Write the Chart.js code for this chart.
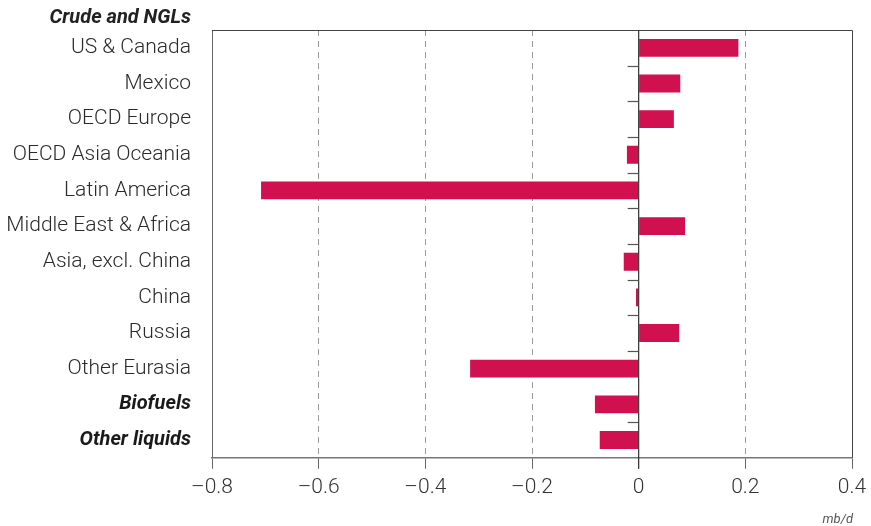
<!DOCTYPE html>
<html>
<head>
<meta charset="utf-8">
<script src="https://cdn.jsdelivr.net/npm/chart.js@4"></script>
<style>
  html, body { margin: 0; padding: 0; background: #fff; }
  #wrap { width: 871px; height: 526px; }
</style>
</head>
<body>
<div id="wrap"><canvas id="supplyChart"></canvas></div>
<script>
// Change in liquids supply by region (mb/d)
const groupTitle = "Crude and NGLs";
const regions = [
  "US & Canada", "Mexico", "OECD Europe", "OECD Asia Oceania", "Latin America",
  "Middle East & Africa", "Asia, excl. China", "China", "Russia", "Other Eurasia",
];
const otherSupply = ["Biofuels", "Other liquids"];
const categories = [...regions, ...otherSupply];

const regionChanges = [0.187, 0.078, 0.066, -0.022, -0.708, 0.087, -0.028, -0.005, 0.076, -0.316];
const otherChanges = [-0.082, -0.073];
const changes = [...regionChanges, ...otherChanges];

const xTicks = [-0.8, -0.6, -0.4, -0.2, 0, 0.2, 0.4];
const unitLabel = "mb/d";

const FONT = "Roboto, 'Liberation Sans', Arial, sans-serif";
const BAR_COLOR = "#d0104f";

function formatTick(value) {
  if (Math.abs(value) < 1e-9) return "0";
  return (value < 0 ? "\u2013" : "") + Math.abs(value).toFixed(1);
}

// frame, zero line, small separators and the extra texts
const decorPlugin = {
  id: "decor",
  afterDatasetsDraw(chart) {
    const { ctx, chartArea, scales } = chart;
    const xScale = scales.x;
    const yScale = scales.y;
    const x0 = xScale.getPixelForValue(0);

    ctx.save();
    // top and right frame
    ctx.strokeStyle = "#444";
    ctx.lineWidth = 1;
    ctx.beginPath();
    ctx.moveTo(chartArea.left, chartArea.top + 0.5);
    ctx.lineTo(chartArea.right + 0.5, chartArea.top + 0.5);
    ctx.lineTo(chartArea.right + 0.5, chartArea.bottom);
    ctx.stroke();

    // zero line
    ctx.strokeStyle = "#333";
    ctx.lineWidth = 1.2;
    ctx.beginPath();
    ctx.moveTo(x0, chartArea.top);
    ctx.lineTo(x0, chartArea.bottom + 11);
    ctx.stroke();

    // little marks between categories on the zero line
    ctx.strokeStyle = "#555";
    ctx.lineWidth = 1.2;
    for (let i = 0; i < categories.length - 1; i++) {
      if (i === regions.length - 1) continue; // no mark before Biofuels
      const y = Math.round((yScale.getPixelForValue(i) + yScale.getPixelForValue(i + 1)) / 2) + 0.5;
      ctx.beginPath();
      ctx.moveTo(x0 - 11, y);
      ctx.lineTo(x0, y);
      ctx.stroke();
    }

    // group header above the plot
    ctx.fillStyle = "#222";
    ctx.font = "italic bold 20px " + FONT;
    ctx.textAlign = "right";
    ctx.textBaseline = "middle";
    ctx.fillText(groupTitle, chartArea.left - 21, chartArea.top - 12);

    // unit
    ctx.fillStyle = "#555";
    ctx.font = "italic 13px " + FONT;
    ctx.textBaseline = "alphabetic";
    ctx.fillText(unitLabel, chartArea.right + 1, 523);
    ctx.restore();
  },
};

function initializeChart() {
  const ctx = document.getElementById("supplyChart").getContext("2d");
  new Chart(ctx, {
    type: "bar",
    data: {
      labels: categories,
      datasets: [
        {
          label: "Change",
          data: changes,
          backgroundColor: BAR_COLOR,
          borderWidth: 0,
          barPercentage: 0.5,
          categoryPercentage: 1,
        },
      ],
    },
    options: {
      indexAxis: "y",
      responsive: true,
      maintainAspectRatio: false,
      animation: false,
      layout: { padding: { top: 30, right: 19, bottom: 20, left: 0 } },
      plugins: {
        legend: { display: false },
        tooltip: { enabled: false },
      },
      scales: {
        x: {
          min: -0.8,
          max: 0.4,
          afterBuildTicks: (scale) => {
            scale.ticks = xTicks.map((v) => ({ value: v }));
          },
          afterFit: (scale) => {
            // let the layout padding decide the right edge
            scale.paddingRight = 0;
          },
          grid: {
            color: (c) => {
              const v = c.tick ? c.tick.value : 0;
              if (Math.abs(v) < 1e-9 || Math.abs(v + 0.8) < 1e-9 || Math.abs(v - 0.4) < 1e-9) {
                return "rgba(0,0,0,0)";
              }
              return "#9a9a9a";
            },
            lineWidth: 1,
            tickColor: "#666",
            tickLength: 11,
            tickWidth: 1,
            tickBorderDash: [],
          },
          border: { display: true, color: "#777", width: 1.5, dash: [6, 5] },
          ticks: {
            color: "#333",
            padding: 6,
            font: { family: FONT, size: 21, weight: 300 },
            callback: (value) => formatTick(value),
          },
        },
        y: {
          type: "category",
          offset: true,
          grid: { display: false },
          border: { display: true, color: "#666", width: 1 },
          afterFit: (scale) => {
            scale.width = 212;
          },
          ticks: {
            autoSkip: false,
            padding: 13,
            color: (c) => (otherSupply.includes(categories[c.index]) ? "#1a1a1a" : "#2a2a2a"),
            font: (c) =>
              otherSupply.includes(categories[c.index])
                ? { family: FONT, size: 20, weight: "bold", style: "italic" }
                : { family: FONT, size: 21, weight: 300 },
          },
        },
      },
    },
    plugins: [decorPlugin],
  });
}

window.onload = function () {
  initializeChart();
};
</script>
</body>
</html>
